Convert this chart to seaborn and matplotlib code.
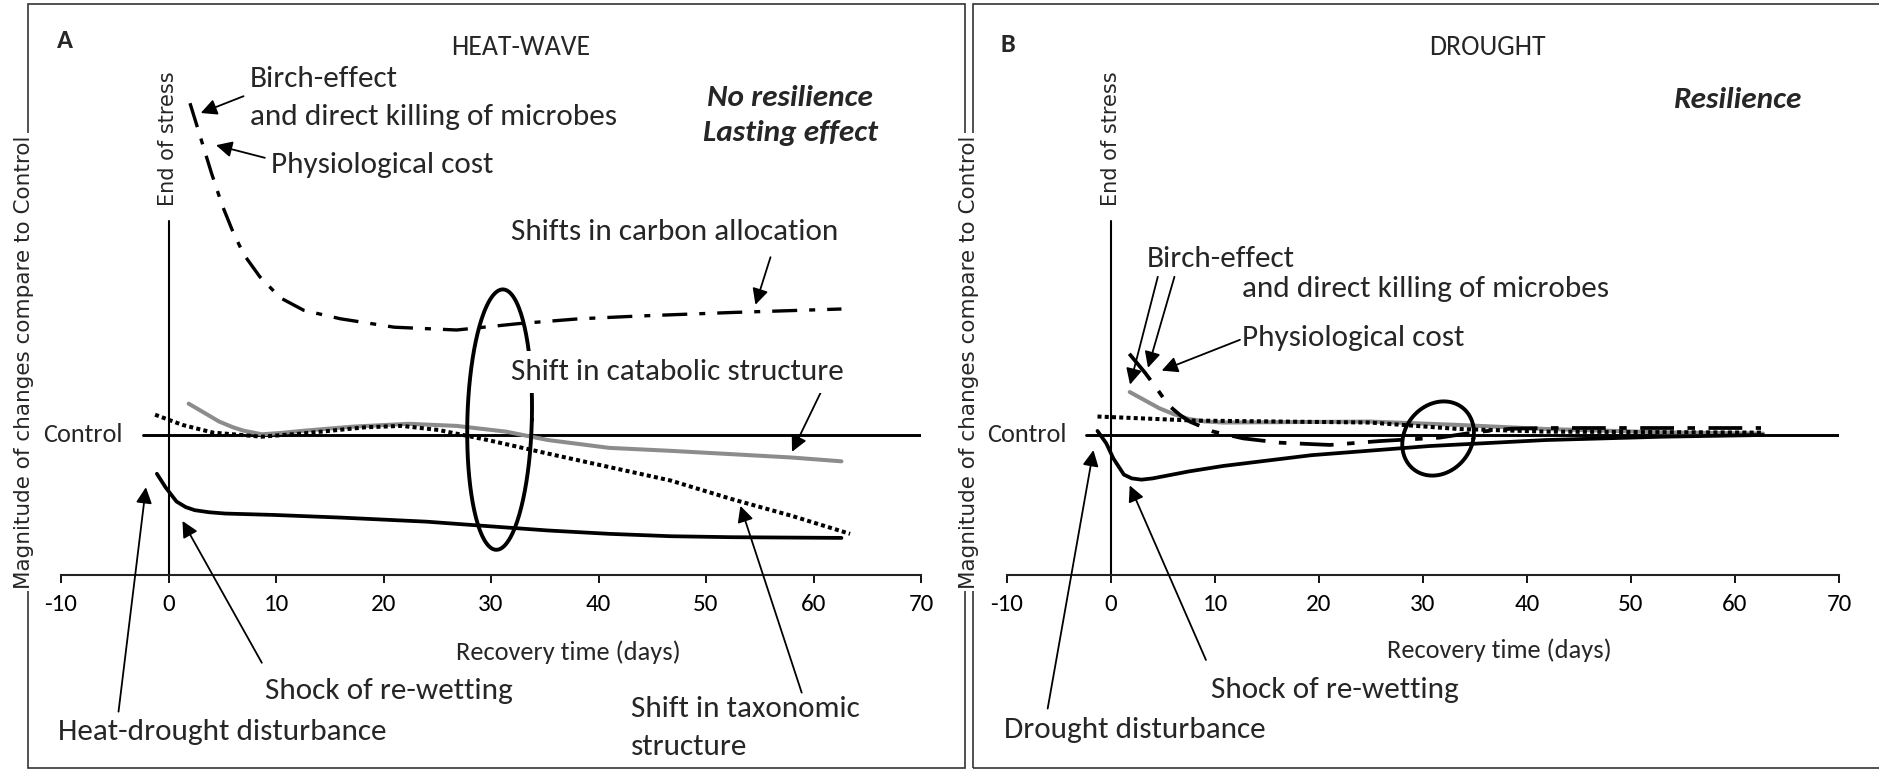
import numpy as np
import seaborn as sns
import matplotlib
matplotlib.use("Agg")
import matplotlib.pyplot as plt
from matplotlib import font_manager
from matplotlib.patches import Rectangle

# ---- values (x = recovery day, y = magnitude; Control = 1, x-axis = 0) ----
xticks = [-10, 0, 10, 20, 30, 40, 50, 60, 70]
control_x = [-2.4, 70]
control_y = [1.0, 1.0]

# A: heat-wave
a_dist_t = [-1.08, -0.28, 0.74, 1.6, 2.44, 3.8, 5.27, 9.8, 16.05, 24.0, 29.7, 35.3, 41.0, 46.7, 52.4, 62.6]
a_dist_v = [0.723, 0.627, 0.525, 0.485, 0.463, 0.448, 0.439, 0.429, 0.41, 0.381, 0.349, 0.318, 0.294, 0.277, 0.27, 0.265]
a_cata_t = [1.87, 3.3, 4.71, 6.0, 6.98, 8.68, 10.5, 12.65, 17.2, 22.3, 26.8, 31.4, 35.3, 41.0, 46.7, 52.4, 58.0, 62.6]
a_cata_v = [1.224, 1.16, 1.096, 1.055, 1.031, 1.005, 1.015, 1.031, 1.06, 1.08, 1.065, 1.024, 0.964, 0.908, 0.887, 0.863, 0.839, 0.812]
a_taxo_t = [-1.25, 1.3, 4.14, 8.68, 12.65, 18.3, 21.7, 25.1, 29.7, 35.3, 41.0, 46.7, 52.4, 58.0, 63.4]
a_taxo_v = [1.145, 1.072, 1.017, 0.988, 1.012, 1.055, 1.065, 1.036, 0.964, 0.867, 0.771, 0.675, 0.542, 0.422, 0.294]
a_carb_t = [2.0, 3.0, 4.0, 5.0, 6.0, 7.0, 8.5, 10.4, 12.6, 16.0, 21.0, 26.8, 32.5, 38.2, 43.8, 52.4, 62.6]
a_carb_v = [3.37, 3.12, 2.87, 2.64, 2.45, 2.29, 2.13, 1.98, 1.89, 1.83, 1.77, 1.75, 1.795, 1.83, 1.85, 1.875, 1.9]

# B: drought
b_dist_t = [-1.3, -0.45, 0.23, 1.24, 2.0, 2.93, 4.0, 5.19, 7.5, 10.8, 19.3, 30.6, 41.8, 53.1, 62.7]
b_dist_v = [1.029, 0.94, 0.832, 0.717, 0.69, 0.681, 0.69, 0.707, 0.74, 0.779, 0.856, 0.921, 0.964, 0.988, 1.0]
b_cata_t = [1.8, 3.2, 4.62, 6.0, 7.44, 9.0, 10.8, 24.9, 33.4, 41.8, 53.1, 62.7]
b_cata_v = [1.307, 1.25, 1.192, 1.15, 1.115, 1.097, 1.089, 1.096, 1.072, 1.043, 1.019, 1.01]
b_taxo_t = [-1.3, 8.0, 24.9, 33.4, 41.8, 62.7]
b_taxo_v = [1.132, 1.103, 1.089, 1.043, 1.024, 1.017]
b_carb_t = [1.76, 3.27, 4.39, 5.51, 6.63, 7.6, 9.84, 12.7, 16.25, 21.06, 25.9, 31.6, 35.0, 38.5, 42.0, 52.0, 62.5]
b_carb_v = [1.58, 1.445, 1.333, 1.214, 1.143, 1.095, 1.024, 0.976, 0.945, 0.929, 0.957, 0.981, 1.02, 1.045, 1.05, 1.05, 1.05]

# hand-drawn loops (centre t, centre v, half width, half height, lean)
a_loop = [30.8, 1.11, 3.0, 0.93, 0.3]
b_loop = [31.45, 0.975, 3.4, 0.265, 0.55]

sns.set_style("white")
names = {f.name for f in font_manager.fontManager.ttflist}
FONT, SC = "DejaVu Sans", 0.78
for fam, k in [("Carlito", 1.0), ("Liberation Sans Narrow", 1.06), ("Open Sans", 0.86)]:
    if fam in names:
        FONT, SC = fam, k
        break
plt.rcParams["font.family"] = [FONT, "DejaVu Sans"]
plt.rcParams["axes.unicode_minus"] = False

ANN = 22.5 * SC
TICK = 18 * SC
WIDE = "DejaVu Sans"

W, H = 1879, 771
fig = plt.figure(figsize=(W / 100, H / 100), dpi=100)

# panel frames
for x0, x1 in [(28, 965), (973, 1890)]:
    fig.add_artist(Rectangle((x0 / W, 1 - 768 / H), (x1 - x0) / W, 764 / H,
                             transform=fig.transFigure, fill=False, lw=1.2, ec="#333333"))

axA = fig.add_axes([61 / W, 1 - 575 / H, 860 / W, 560 / H])
axB = fig.add_axes([1007 / W, 1 - 575 / H, 832 / W, 560 / H])

arrow = dict(arrowstyle="-|>", mutation_scale=24, lw=1.3, color="black", shrinkA=0, shrinkB=0)


def base(ax):
    ax.set_facecolor("none")
    ax.set_xlim(-10, 70)
    ax.set_ylim(0, 4)
    for s in ["top", "right", "left"]:
        ax.spines[s].set_visible(False)
    ax.spines["bottom"].set_linewidth(1.5)
    ax.spines["bottom"].set_color("#222222")
    ax.set_xticks(xticks)
    ax.set_yticks([])
    ax.tick_params(axis="x", direction="out", length=6, width=1.3, pad=8,
                   labelsize=TICK, colors="black", bottom=True)
    ax.plot([0, 0], [0, 2.53], color="black", lw=1.5)
    ax.text(0, 3.12, "End of stress", rotation=90, ha="center", va="center",
            fontsize=15, family=WIDE)
    sns.lineplot(x=control_x, y=control_y, ax=ax, color="black", lw=2.1,
                 estimator=None, sort=False)
    ax.text(-4.3, 1.0, "Control", ha="right", va="center", fontsize=ANN * 0.84)


def curves(ax, dt, dv, ct, cv, tt, tv, kt, kv, carb_dash, carb_lw):
    sns.lineplot(x=ct, y=cv, ax=ax, color="#8c8c8c", lw=2.9, estimator=None, sort=False)
    sns.lineplot(x=tt, y=tv, ax=ax, color="black", lw=2.9, linestyle=(0, (1.0, 0.8)),
                 estimator=None, sort=False)
    sns.lineplot(x=kt, y=kv, ax=ax, color="black", lw=carb_lw, linestyle=carb_dash,
                 estimator=None, sort=False)
    sns.lineplot(x=dt, y=dv, ax=ax, color="black", lw=2.7, estimator=None, sort=False)


def loop(ax, p):
    th = np.linspace(0, 2 * np.pi, 240)
    ax.plot(p[0] + p[2] * np.cos(th) + p[4] * np.sin(th), p[1] + p[3] * np.sin(th),
            color="black", lw=2.8)


# ---------------- A ----------------
base(axA)
curves(axA, a_dist_t, a_dist_v, a_cata_t, a_cata_v, a_taxo_t, a_taxo_v,
       a_carb_t, a_carb_v, (0, (7.5, 3.6, 1.8, 3.6)), 2.4)
loop(axA, a_loop)

axA.text(-9.64, 3.82, "A", ha="center", va="center", fontsize=19 * SC, weight="bold")
axA.text(32.8, 3.77, "HEAT-WAVE", ha="center", va="center", fontsize=20 * SC)
axA.text(7.54, 3.54, "Birch-effect", ha="left", va="center", fontsize=ANN)
axA.text(7.54, 3.27, "and direct killing of microbes", ha="left", va="center", fontsize=ANN)
axA.text(9.53, 2.93, "Physiological cost", ha="left", va="center", fontsize=ANN)
axA.annotate("", xy=(3.0, 3.30), xytext=(6.98, 3.42), arrowprops=arrow, annotation_clip=False)
axA.annotate("", xy=(4.42, 3.07), xytext=(8.96, 2.98), arrowprops=arrow, annotation_clip=False)
axA.text(57.8, 3.41, "No resilience", ha="center", va="center", fontsize=ANN,
         weight="bold", style="italic")
axA.text(57.9, 3.16, "Lasting effect", ha="center", va="center", fontsize=ANN,
         weight="bold", style="italic")
axA.text(31.9, 2.45, "Shifts in carbon allocation", ha="left", va="center", fontsize=ANN)
axA.annotate("", xy=(54.6, 1.93), xytext=(56.0, 2.27), arrowprops=arrow, annotation_clip=False)
axA.text(31.9, 1.45, "Shift in catabolic structure", ha="left", va="center", fontsize=ANN,
         bbox=dict(boxstyle="square,pad=0.25", fc="white", ec="none"), zorder=5)
axA.annotate("", xy=(58.0, 0.88), xytext=(60.9, 1.34), arrowprops=arrow, annotation_clip=False)
axA.text(-10.3, -1.12, "Heat-drought disturbance", ha="left", va="center", fontsize=ANN)
axA.annotate("", xy=(-2.1, 0.627), xytext=(-4.65, -0.976), arrowprops=arrow, annotation_clip=False)
axA.text(8.96, -0.83, "Shock of re-wetting", ha="left", va="center", fontsize=ANN)
axA.annotate("", xy=(1.3, 0.386), xytext=(8.68, -0.627), arrowprops=arrow, annotation_clip=False)
axA.text(43.0, -0.96, "Shift in taxonomic", ha="left", va="center", fontsize=ANN)
axA.text(43.0, -1.23, "structure", ha="left", va="center", fontsize=ANN)
axA.annotate("", xy=(53.2, 0.494), xytext=(58.9, -0.84), arrowprops=arrow, annotation_clip=False)
axA.text(37.2, -0.554, "Recovery time (days)", ha="center", va="center", fontsize=19 * SC)

# ---------------- B ----------------
base(axB)
curves(axB, b_dist_t, b_dist_v, b_cata_t, b_cata_v, b_taxo_t, b_taxo_v,
       b_carb_t, b_carb_v, (0, (9, 3.6, 2, 3.6)), 2.7)
loop(axB, b_loop)

axB.text(-9.9, 3.79, "B", ha="center", va="center", fontsize=19 * SC, weight="bold")
axB.text(36.2, 3.77, "DROUGHT", ha="center", va="center", fontsize=20 * SC)
axB.text(60.3, 3.39, "Resilience", ha="center", va="center", fontsize=ANN,
         weight="bold", style="italic")
axB.text(3.46, 2.26, "Birch-effect", ha="left", va="center", fontsize=ANN)
axB.text(12.6, 2.04, "and direct killing of microbes", ha="left", va="center", fontsize=ANN)
axB.text(12.6, 1.69, "Physiological cost", ha="left", va="center", fontsize=ANN)
axB.annotate("", xy=(1.83, 1.36), xytext=(4.5, 2.13), arrowprops=arrow, annotation_clip=False)
axB.annotate("", xy=(3.56, 1.48), xytext=(6.1, 2.13), arrowprops=arrow, annotation_clip=False)
axB.annotate("", xy=(4.87, 1.46), xytext=(12.4, 1.68), arrowprops=arrow, annotation_clip=False)
axB.text(-10.3, -1.11, "Drought disturbance", ha="left", va="center", fontsize=ANN)
axB.annotate("", xy=(-1.69, 0.892), xytext=(-6.09, -0.954), arrowprops=arrow, annotation_clip=False)
axB.text(9.58, -0.82, "Shock of re-wetting", ha="left", va="center", fontsize=ANN)
axB.annotate("", xy=(1.8, 0.64), xytext=(9.13, -0.607), arrowprops=arrow, annotation_clip=False)
axB.text(37.3, -0.535, "Recovery time (days)", ha="center", va="center", fontsize=19 * SC)

# y labels sit on the frames, masking them
for xc in [24, 969]:
    fig.text(xc / W, 1 - 362 / H, "Magnitude of changes compare to Control", rotation=90,
             ha="center", va="center", fontsize=15.5, family=WIDE,
             bbox=dict(boxstyle="square,pad=0.1", fc="white", ec="none"), zorder=6)

fig.savefig("out.png", dpi=100)
